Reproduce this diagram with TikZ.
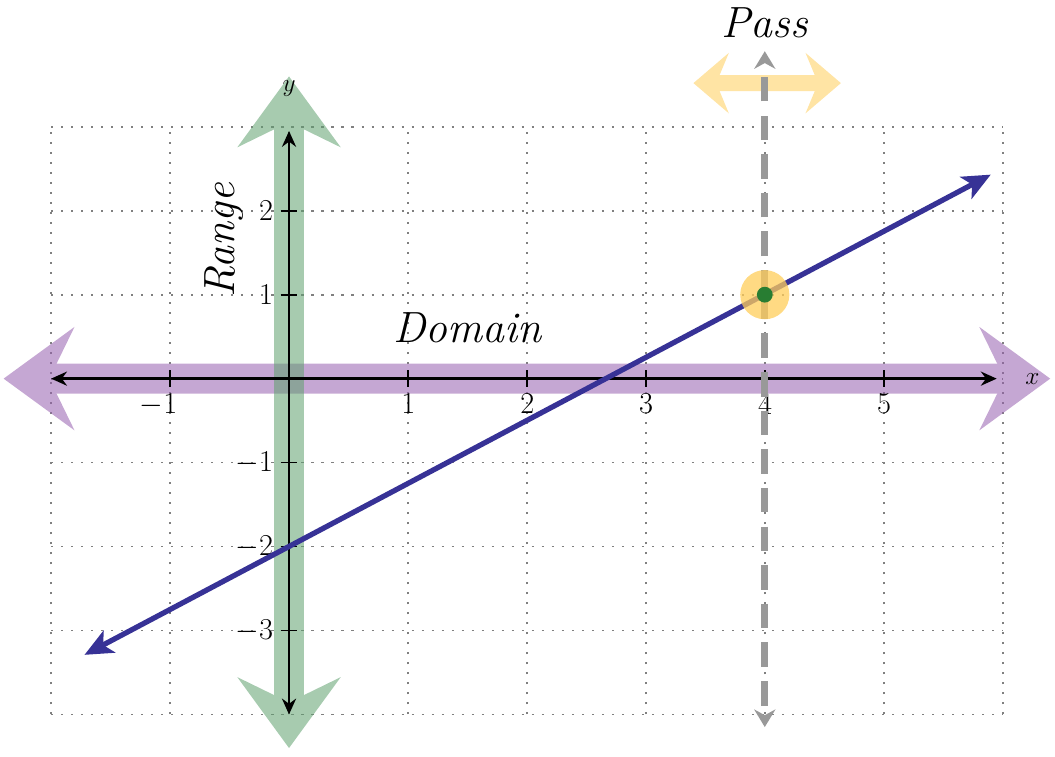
\documentclass[tikz,border=0pt]{standalone}
\usepackage{tikz}
\usetikzlibrary{arrows.meta}
\usetikzlibrary{positioning}
\definecolor{bandpurple}{RGB}{150,95,175}
\definecolor{bandgreen}{RGB}{95,160,110}
\definecolor{bandyellow}{RGB}{255,205,90}
\definecolor{lineblue}{RGB}{55,50,150}
\definecolor{dotgreen}{RGB}{40,125,50}
\tikzset{
    band/.style={line width=17pt,
        {Stealth[length=40pt,width=58pt,inset=14pt]}-{Stealth[length=40pt,width=58pt,inset=14pt]}},
    axis/.style={line width=1.5pt, {Stealth[length=9pt,width=8pt]}-{Stealth[length=9pt,width=8pt]}},
    gridline/.style={gray, line width=1pt, dash pattern=on 1.2pt off 4.5pt},
    tick/.style={font=\LARGE},
}
\begin{document}
\begin{tikzpicture}[x=2.38cm, y=1.68cm]
	\useasboundingbox (-2.43,-4.5) rectangle (6.44,4.51);
	\foreach \x in {-2,...,6}
		\draw[gridline] (\x,-4) -- (\x,3);
	\foreach \y in {-4,...,3}
		\draw[gridline] (-2,\y) -- (6,\y);
	% bands
	\coordinate (dl) at (-2.4,0);
	\coordinate (dr) at (6.4,0);
	\coordinate (rt) at (0,3.6);
	\coordinate (rb) at (0,-4.4);
	\coordinate (pl) at (3.4,3.52);
	\coordinate (pr) at (4.64,3.52);
	\begin{scope}[transparency group, opacity=0.55]
		\draw[band, bandpurple] (dl) -- (dr);
	\end{scope}
	\begin{scope}[transparency group, opacity=0.55]
		\draw[band, bandgreen] (rb) -- (rt);
	\end{scope}
	\begin{scope}[transparency group, opacity=0.55]
		\draw[band, bandyellow, line width=9pt,
			{Stealth[length=20pt,width=34pt,inset=7pt]}-{Stealth[length=20pt,width=34pt,inset=7pt]}] (pl) -- (pr);
	\end{scope}
	% axes
	\coordinate (xl) at (-2,0);
	\coordinate (xr) at (5.95,0);
	\coordinate (yt) at (0,2.95);
	\coordinate (yb) at (0,-4);
	\draw[axis] (xl) -- (xr);
	\draw[axis] (yb) -- (yt);
	\node[font=\Large\itshape] (xlab) at (6.25,0) {$x$};
	\node[font=\Large\itshape] (ylab) at (0,3.45) {$y$};
	\foreach \x/\t in {-1/$-1$,1/1,2/2,3/3,4/4,5/5}
		\draw[line width=1pt] (\x,0.1) -- (\x,-0.1) node[tick, below left=0pt and -8pt] {\t};
	\foreach \y/\t in {2/2,1/1,-1/$-1$,-2/$-2$,-3/$-3$}
		\draw[line width=1pt] (-0.07,\y) -- (0.07,\y) node[tick, left=10pt] {\t};
	% vertical line test
	\coordinate (vt) at (4,3.9);
	\coordinate (vb) at (4,-4.15);
	\draw[gray!80, line width=4pt, dash pattern=on 14pt off 8pt, -{Stealth[length=10pt,width=12pt]}] (4,1) -- (vt);
	\draw[gray!80, line width=4pt, dash pattern=on 14pt off 8pt, -{Stealth[length=10pt,width=12pt]}] (4,1) -- (vb);
	% line
	\coordinate (la) at (-1.72,-3.29);
	\coordinate (lb) at (5.9,2.43);
	\draw[lineblue, line width=3pt, {Stealth[length=16pt,width=14pt,inset=4pt]}-{Stealth[length=16pt,width=14pt,inset=4pt]}] (la) -- (lb);
	\fill[bandyellow, opacity=0.75] (4,1) circle (14pt);
	\node[circle, fill=dotgreen, inner sep=0pt, minimum size=9pt] (pt) at (4,1) {};
	% labels
	\node[font=\Huge\itshape] (pass) at (4,4.24) {Pass};
	\node[font=\Huge\itshape] (dom) at (1.5,0.6) {Domain};
	\node[font=\Huge\itshape, rotate=90] (rng) at (-0.55,1.65) {Range};
\end{tikzpicture}
\end{document}
